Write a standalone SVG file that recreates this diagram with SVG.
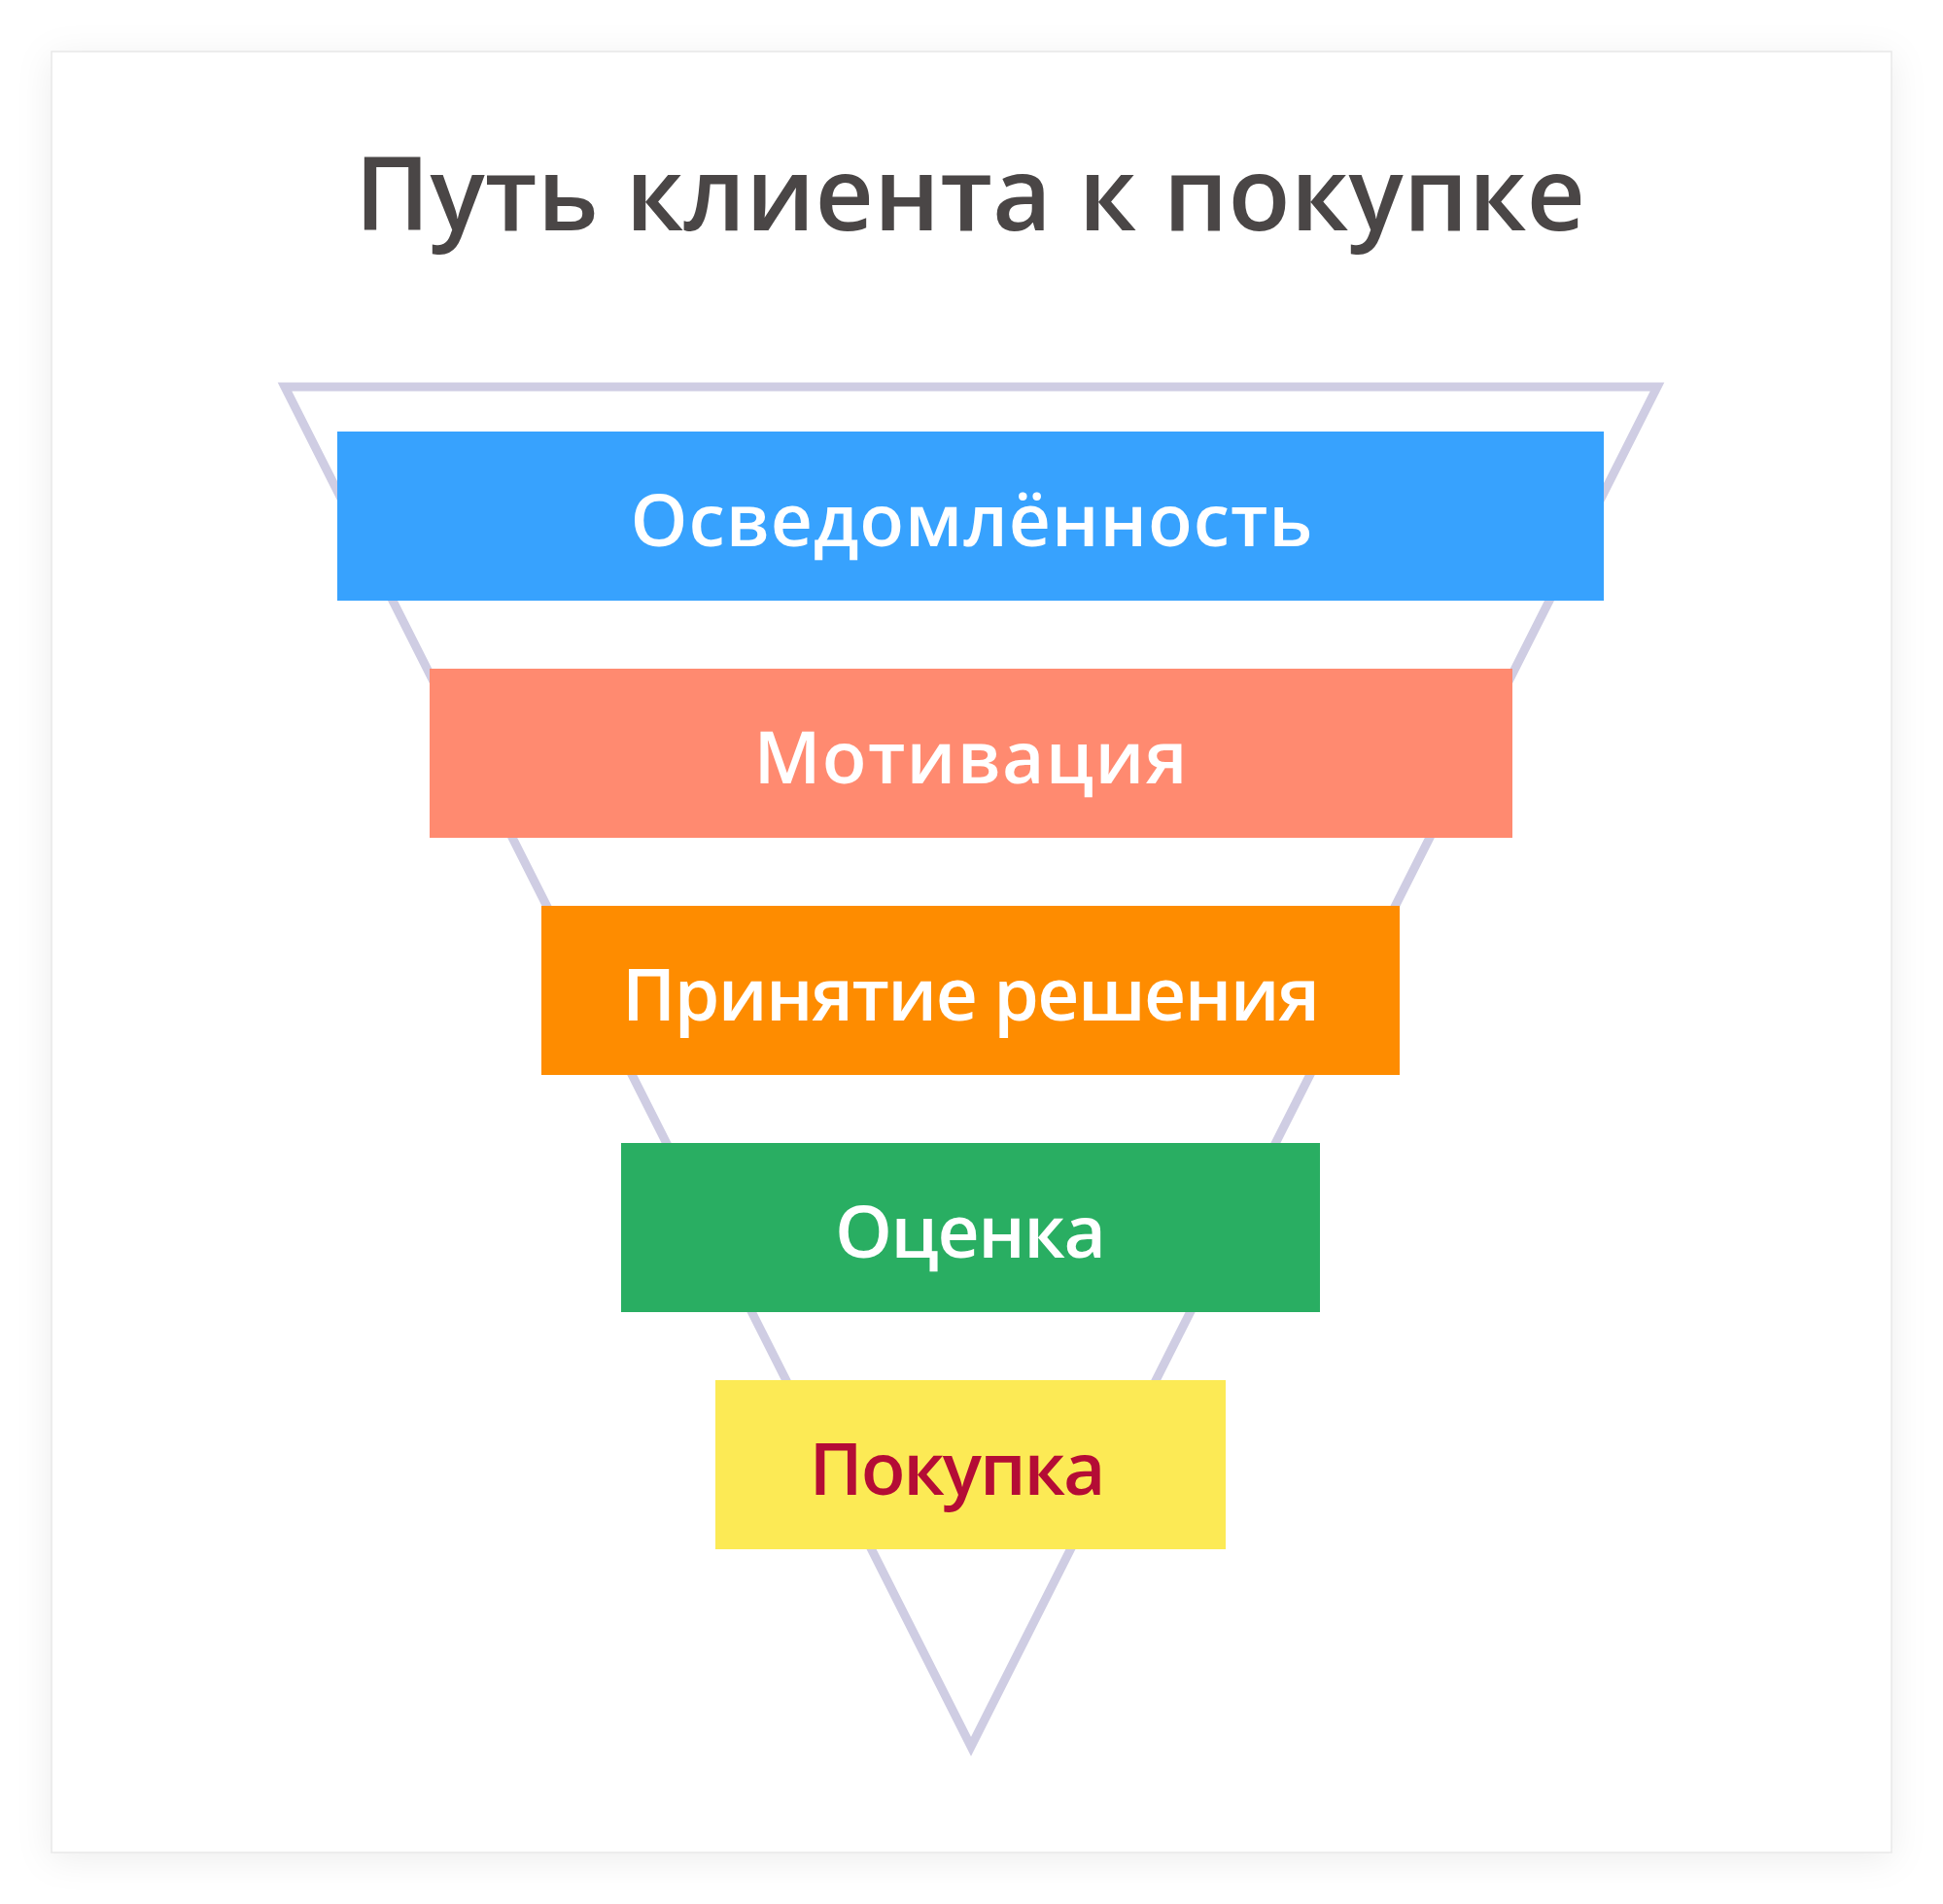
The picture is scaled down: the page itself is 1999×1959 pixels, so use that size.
<svg xmlns="http://www.w3.org/2000/svg" width="1999" height="1959" viewBox="0 0 1999 1959">
  <defs>
    <filter id="shadow" x="-10%" y="-10%" width="120%" height="120%">
      <feDropShadow dx="0" dy="6" stdDeviation="18" flood-color="#000" flood-opacity="0.07"/>
    </filter>
    <style>
      .title { font-family: "Open Sans", "Noto Sans", "Liberation Sans", sans-serif; font-weight: 600; font-size: 105px; fill: #4a4646; text-anchor: middle; }
      .label { font-family: "Open Sans", "Noto Sans", "Liberation Sans", sans-serif; font-weight: 600; font-size: 75px; fill: #ffffff; text-anchor: middle; }
      .funnel { fill: none; stroke: #cfcde3; stroke-width: 9; stroke-linejoin: miter; }
    </style>
  </defs>
  <rect x="0" y="0" width="1999" height="1959" fill="#ffffff"/>
  <rect x="53" y="53" width="1893" height="1853" fill="#ffffff" stroke="#e8e8e8" stroke-width="1.5" filter="url(#shadow)"/>
  <text class="title" x="998" y="237" textLength="1266">Путь клиента к покупке</text>
  <g id="connectors">
    <polygon class="funnel" points="293,398 1705,398 999,1797"/>
  </g>
  <g id="node-awareness">
    <rect x="347" y="444" width="1303" height="174" fill="#37a2fe"/>
    <text class="label" x="999.5" y="562" textLength="702">Осведомлённость</text>
  </g>
  <g id="node-motivation">
    <rect x="442" y="688" width="1114" height="174" fill="#ff8a70"/>
    <text class="label" x="998.5" y="806" textLength="446">Мотивация</text>
  </g>
  <g id="node-decision">
    <rect x="557" y="932" width="883" height="174" fill="#fe8c00"/>
    <text class="label" x="999" y="1050" textLength="718">Принятие решения</text>
  </g>
  <g id="node-evaluation">
    <rect x="639" y="1176" width="719" height="174" fill="#29ae62"/>
    <text class="label" x="998.5" y="1294" textLength="279">Оценка</text>
  </g>
  <g id="node-purchase">
    <rect x="736" y="1420" width="525" height="174" fill="#fcea55"/>
    <text class="label" x="985" y="1538" textLength="305" style="fill:#b40c35">Покупка</text>
  </g>
</svg>
